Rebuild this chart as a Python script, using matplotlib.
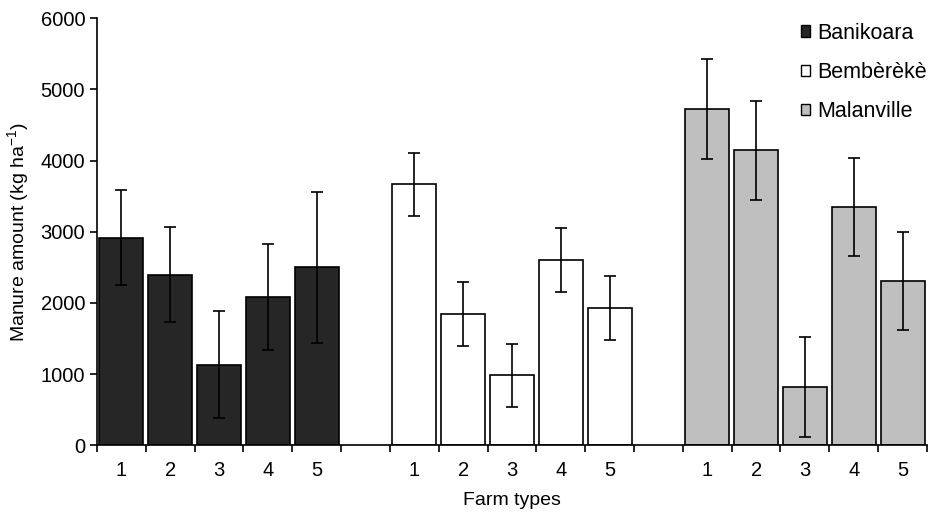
import numpy as np
import matplotlib.pyplot as plt
from matplotlib.patches import Patch

plt.rcParams['font.family'] = ['Liberation Sans', 'DejaVu Sans']

# Données
farm_types = ['1', '2', '3', '4', '5']
sites = ['Banikoara', 'Bembèrèkè', 'Malanville']
banikoara = [2920, 2400, 1135, 2090, 2500]
banikoara_err = [670, 670, 755, 745, 1060]
bembereke = [3665, 1845, 985, 2605, 1935]
bembereke_err = [445, 450, 445, 450, 450]
malanville = [4725, 4145, 815, 3350, 2305]
malanville_err = [700, 700, 700, 690, 690]

colors = ['#262626', 'white', '#bfbfbf']

fig = plt.figure(figsize=(9.35, 5.16), dpi=100)
ax = fig.add_axes([0.1037, 0.137, 0.8877, 0.8275])

groups = [banikoara, bembereke, malanville]
errs = [banikoara_err, bembereke_err, malanville_err]
centers = []
for g, (vals, err) in enumerate(zip(groups, errs)):
    x = np.arange(len(vals)) + g * 6 + 0.5
    centers.extend(x)
    ax.bar(x, vals, width=0.9, color=colors[g], edgecolor='black', linewidth=1.2, zorder=2)
    ax.errorbar(x, vals, yerr=err, fmt='none', ecolor='black', elinewidth=1.2,
                capsize=4, capthick=1.2, zorder=3)

ax.set_xlim(0, 17)
ax.set_ylim(0, 6000)
ax.set_yticks(range(0, 6001, 1000))
ax.set_xticks(range(0, 18))
ax.set_xticklabels([])
ax.set_xticks(centers, minor=True)
ax.set_xticklabels(farm_types * 3, minor=True)
ax.tick_params(axis='x', which='major', direction='out', length=5, width=1.2)
ax.tick_params(axis='x', which='minor', length=0, pad=11, labelsize=14.5)
ax.tick_params(axis='y', direction='out', length=5, width=1.2, labelsize=14.5)

for s in ['top', 'right']:
    ax.spines[s].set_visible(False)
for s in ['left', 'bottom']:
    ax.spines[s].set_linewidth(1.2)

ax.set_xlabel('Farm types', fontsize=14, labelpad=9)
ax.set_ylabel('Manure amount (kg ha$^{\\mathregular{-1}}$)', fontsize=14, labelpad=6)

handles = [Patch(facecolor=c, edgecolor='black', linewidth=1) for c in colors]
ax.legend(handles, sites, loc='upper right', bbox_to_anchor=(1.015, 1.02), frameon=False,
          fontsize=15.5, handlelength=0.45, handleheight=0.45, handletextpad=0.3,
          labelspacing=0.85, borderaxespad=0.2)

fig.savefig('out.png', dpi=100)
